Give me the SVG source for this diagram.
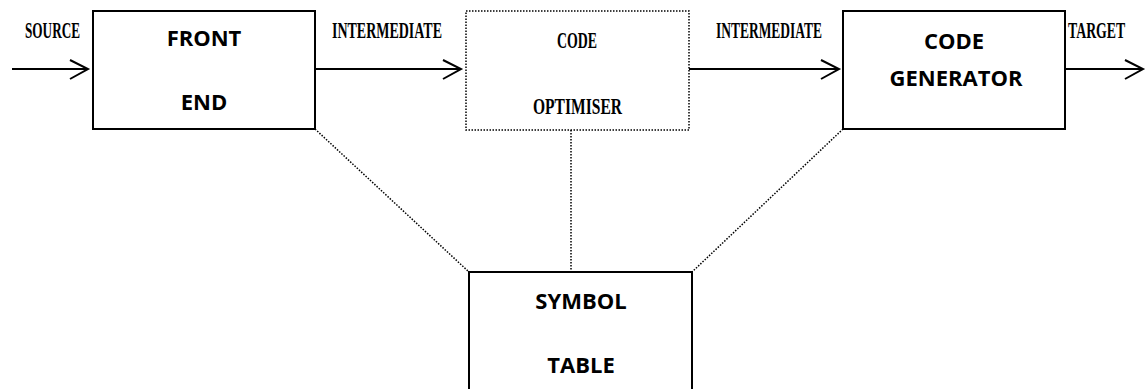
<svg xmlns="http://www.w3.org/2000/svg" width="1148" height="389" viewBox="0 0 1148 389">
<style>
.box{fill:#fff;stroke:#000;stroke-width:2}
.dbox{fill:#fff;stroke:#000;stroke-width:1.5;stroke-dasharray:1.5 1.5}
.t{font-family:"Open Sans",sans-serif;font-weight:bold;font-size:22px;text-anchor:middle;fill:#000}
.c{font-family:"Liberation Serif",serif;font-weight:bold;font-size:24px;fill:#000}
.ln{stroke:#000;stroke-width:2;fill:none}
.dl{stroke:#000;stroke-width:1.5;stroke-dasharray:1.5 1.5;fill:none}
</style>
<g id="connectors">
<path class="dl" d="M315,129 L469,272"/>
<path class="dl" d="M571,130 L571,272"/>
<path class="dl" d="M843,129 L692,272"/>
<path class="ln" d="M12,69 L88,69 M70,60 L88,69 L70,79"/>
<path class="ln" d="M315,69 L461,69 M443,60 L461,69 L443,79"/>
<path class="ln" d="M689,69 L839,69 M821,60 L839,69 L821,79"/>
<path class="ln" d="M1065,69 L1143,69 M1125,60 L1143,69 L1125,79"/>
<text class="c" x="25" y="38" textLength="55" lengthAdjust="spacingAndGlyphs">SOURCE</text>
<text class="c" x="332" y="38" textLength="110" lengthAdjust="spacingAndGlyphs">INTERMEDIATE</text>
<text class="c" x="716" y="38" textLength="106" lengthAdjust="spacingAndGlyphs">INTERMEDIATE</text>
<text class="c" transform="translate(1068,38) scale(0.575,1)" x="0" y="0">TARGET</text>
</g>
<g id="front-end">
<rect class="box" x="93" y="11" width="222" height="118"/>
<text class="t" x="204" y="46">FRONT</text>
<text class="t" x="204" y="110">END</text>
</g>
<g id="code-optimiser">
<rect class="dbox" x="466" y="11" width="223" height="119"/>
<text class="c" x="557" y="48" textLength="40" lengthAdjust="spacingAndGlyphs">CODE</text>
<text class="c" x="533" y="114" textLength="89" lengthAdjust="spacingAndGlyphs">OPTIMISER</text>
</g>
<g id="code-generator">
<rect class="box" x="843" y="11" width="222" height="118"/>
<text class="t" x="954" y="49">CODE</text>
<text class="t" x="956" y="86">GENERATOR</text>
</g>
<g id="symbol-table">
<rect class="box" x="469" y="272" width="223" height="130"/>
<text class="t" x="581" y="309">SYMBOL</text>
<text class="t" x="581" y="373">TABLE</text>
</g>
</svg>
